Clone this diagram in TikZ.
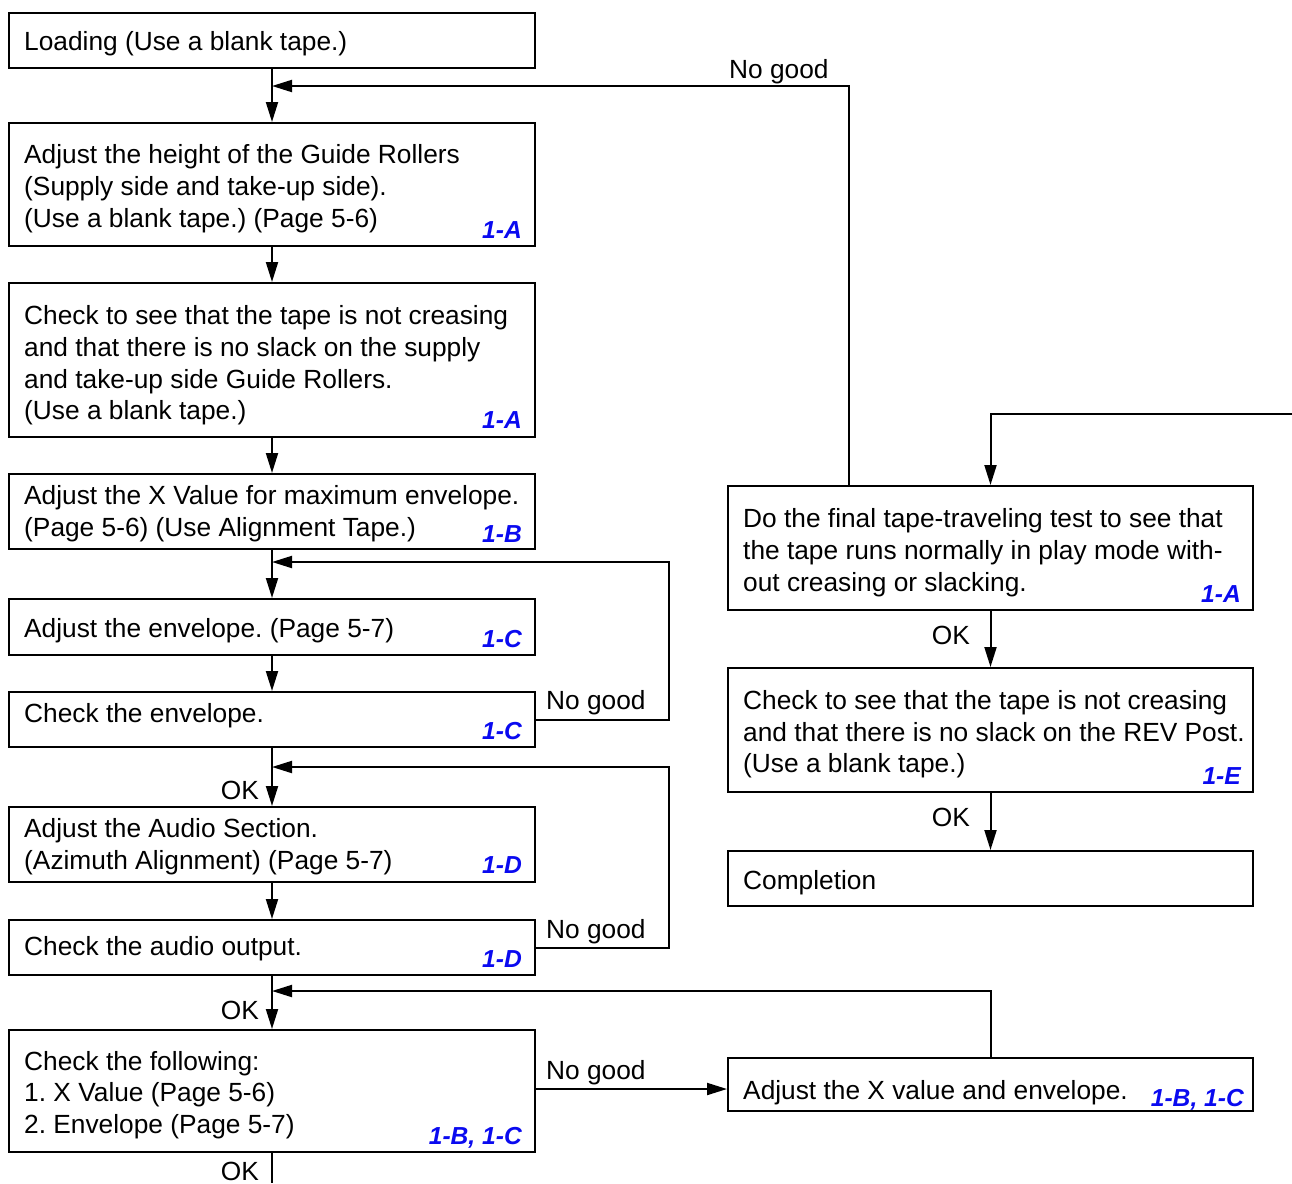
\documentclass[tikz,border=0pt]{standalone}
\usepackage{fontspec}
\setmainfont{Liberation Sans}
\usetikzlibrary{arrows.meta}
\definecolor{refblue}{RGB}{10,10,240}
\frenchspacing
\begin{document}
\begin{tikzpicture}[x=1pt,y=-1pt,
 box/.style={draw,line width=2pt,inner sep=0pt},
 lbox/.style={box,minimum width=526pt},
 rbox/.style={box,minimum width=525pt},
 txt/.style={anchor=base west,inner sep=0pt,font=\fontsize{26.3}{32}\selectfont\frenchspacing},
 okl/.style={anchor=base east,inner sep=0pt,font=\fontsize{26.3}{32}\selectfont},
 ref/.style={anchor=base east,inner sep=0pt,text=refblue,font=\fontsize{24.6}{28}\selectfont\bfseries\itshape},
 conn/.style={line width=2pt},
 arr/.style={conn,-{Triangle[length=20pt,width=12pt]}}]
\fill[white] (0,0) rectangle (1292,1183);
\useasboundingbox (0,0) rectangle (1292,1183);

% boxes
\node[lbox,minimum height=55pt]  (b1) at (272,40.5) {};
\node[lbox,minimum height=123pt] (b2) at (272,184.5) {};
\node[lbox,minimum height=154pt] (b3) at (272,360) {};
\node[lbox,minimum height=75pt]  (b4) at (272,511.5) {};
\node[lbox,minimum height=56pt]  (b5) at (272,627) {};
\node[lbox,minimum height=55pt]  (b6) at (272,719.5) {};
\node[lbox,minimum height=75pt]  (b7) at (272,844.5) {};
\node[lbox,minimum height=55pt]  (b8) at (272,947.5) {};
\node[lbox,minimum height=122pt] (b9) at (272,1091) {};
\node[rbox,minimum height=124pt] (b10) at (990.5,548) {};
\node[rbox,minimum height=124pt] (b11) at (990.5,730) {};
\node[rbox,minimum height=55pt]  (b12) at (990.5,878.5) {};
\node[rbox,minimum height=53pt]  (b13) at (990.5,1084.5) {};

% texts
\node[txt] (t1) at (24,50) {Loading (Use a blank tape.)};
\node[txt] (t2a) at (24,163) {Adjust the height of the Guide Rollers};
\node[txt] (t2b) at (24,195) {(Supply side and take-up side).};
\node[txt] (t2c) at (24,227) {(Use a blank tape.) (Page 5-6)};
\node[ref] (r2) at (522,238) {1-A};
\node[txt] (t3a) at (24,324) {Check to see that the tape is not creasing};
\node[txt] (t3b) at (24,356) {and that there is no slack on the supply};
\node[txt] (t3c) at (24,388) {and take-up side Guide Rollers.};
\node[txt] (t3d) at (24,419) {(Use a blank tape.)};
\node[ref] (r3) at (522,428) {1-A};
\node[txt] (t4a) at (24,504) {Adjust the X Value for maximum envelope.};
\node[txt] (t4b) at (24,536) {(Page 5-6) (Use Alignment Tape.)};
\node[ref] (r4) at (522,542) {1-B};
\node[txt] (t5) at (24,637) {Adjust the envelope. (Page 5-7)};
\node[ref] (r5) at (522,647) {1-C};
\node[txt] (t6) at (24,722) {Check the envelope.};
\node[ref] (r6) at (522,739) {1-C};
\node[txt] (t7a) at (24,837) {Adjust the Audio Section.};
\node[txt] (t7b) at (24,869) {(Azimuth Alignment) (Page 5-7)};
\node[ref] (r7) at (522,873) {1-D};
\node[txt] (t8) at (24,955) {Check the audio output.};
\node[ref] (r8) at (522,967) {1-D};
\node[txt] (t9a) at (24,1070) {Check the following:};
\node[txt] (t9b) at (24,1101) {1. X Value (Page 5-6)};
\node[txt] (t9c) at (24,1133) {2. Envelope (Page 5-7)};
\node[ref] (r9) at (522,1144) {1-B, 1-C};
\node[txt] (t10a) at (743,527) {Do the final tape-traveling test to see that};
\node[txt] (t10b) at (743,559) {the tape runs normally in play mode with-};
\node[txt] (t10c) at (743,591) {out creasing or slacking.};
\node[ref] (r10) at (1241,602) {1-A};
\node[txt] (t11a) at (743,709) {Check to see that the tape is not creasing};
\node[txt] (t11b) at (743,741) {and that there is no slack on the REV Post.};
\node[txt] (t11c) at (743,772) {(Use a blank tape.)};
\node[ref] (r11) at (1241,784) {1-E};
\node[txt] (t12) at (743,889) {Completion};
\node[txt] (t13) at (743,1099) {Adjust the X value and envelope.};
\node[ref] (r13) at (1244,1106) {1-B, 1-C};

% connector labels
\node[txt] (ng1) at (729,78) {No good};
\node[txt] (ng2) at (546,709) {No good};
\node[txt] (ng3) at (546,938) {No good};
\node[txt] (ng4) at (546,1079) {No good};
\node[okl] (ok1) at (259,799) {OK};
\node[okl] (ok2) at (259,1019) {OK};
\node[okl] (ok3) at (259,1180) {OK};
\node[okl] (ok4) at (970,644) {OK};
\node[okl] (ok5) at (970,826) {OK};

% junction coordinates
\coordinate (j1) at (272,86);
\coordinate (f1) at (849,86);
\coordinate (j2) at (272,562);
\coordinate (f2) at (669,562);
\coordinate (j3) at (272,767);
\coordinate (f3) at (669,767);
\coordinate (j4) at (272,991);
\coordinate (n9) at (535,1089);
\coordinate (in) at (1292,414);
\coordinate (out) at (272,1183);

% main flow
\draw[arr] (b1.south) -- (b2.north);
\draw[arr] (b2.south) -- (b3.north);
\draw[arr] (b3.south) -- (b4.north);
\draw[arr] (b4.south) -- (b5.north);
\draw[arr] (b5.south) -- (b6.north);
\draw[arr] (b6.south) -- (b7.north);
\draw[arr] (b7.south) -- (b8.north);
\draw[arr] (b8.south) -- (b9.north);
\draw[conn] (b9.south) -- (out);
\draw[arr] (b10.south) -- (b11.north);
\draw[arr] (b11.south) -- (b12.north);

% feedback loops
\draw[arr] (b10.north -| f1) -- (f1) -- (j1);
\draw[arr] (b6.east) -- (b6.east -| f2) -- (f2) -- (j2);
\draw[arr] (b8.east) -- (b8.east -| f3) -- (f3) -- (j3);
\draw[arr] (b13.north) |- (j4);
\draw[arr] (n9) -- (n9 -| b13.west);
\draw[arr] (in) -- (in -| b10.north) -- (b10.north);
\end{tikzpicture}
\end{document}
